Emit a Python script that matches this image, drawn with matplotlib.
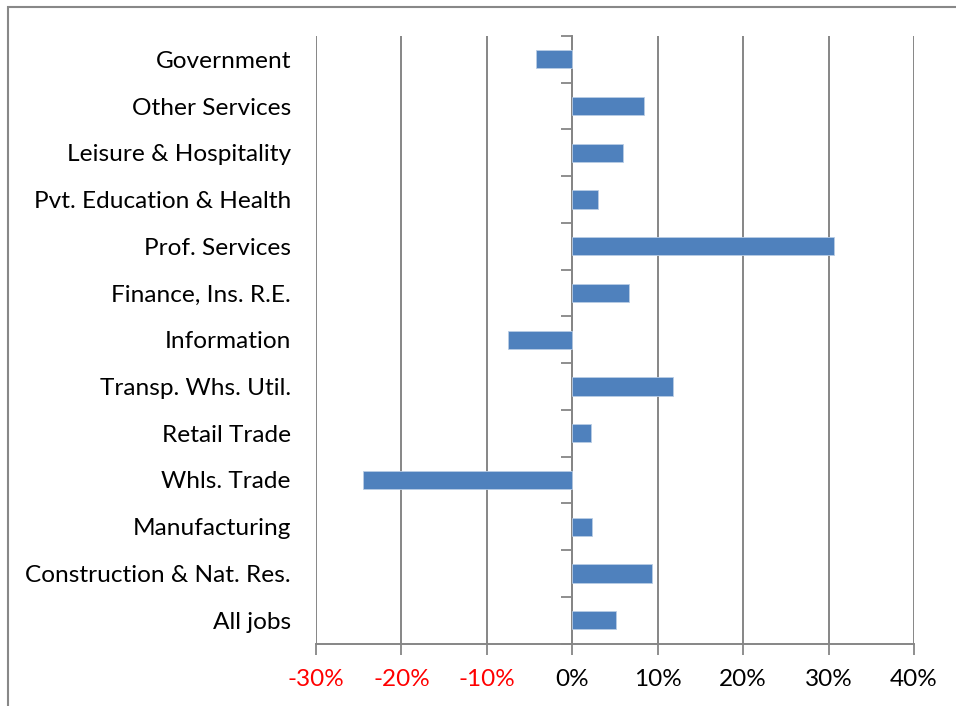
import numpy as np
import matplotlib.pyplot as plt
from matplotlib.patches import Rectangle

# job growth by sector, listed bottom to top
sectors = ['All jobs', 'Construction & Nat. Res.', 'Manufacturing', 'Whls. Trade',
           'Retail Trade', 'Transp. Whs. Util.', 'Information', 'Finance, Ins. R.E.',
           'Prof. Services', 'Pvt. Education & Health', 'Leisure & Hospitality',
           'Other Services', 'Government']
growth = [5.1, 9.3, 2.3, -24.5, 2.2, 11.8, -7.5, 6.6, 30.7, 3.0, 6.0, 8.4, -4.3]

x_ticks = [-30, -20, -10, 0, 10, 20, 30, 40]
x_labels = ['-30%', '-20%', '-10%', '0%', '10%', '20%', '30%', '40%']

plt.rcParams['font.family'] = ['Lato', 'DejaVu Sans']
grid_col = '#868686'

fig = plt.figure(figsize=(9.56, 7.06), dpi=100)
ax = fig.add_axes([0.3305, 0.0885, 0.6255, 0.8605])

y = np.arange(len(sectors))
ax.barh(y, growth, height=0.39, color='#4F81BD', edgecolor='#B9CDE5',
        linewidth=0.6, zorder=3)

ax.set_xlim(-30, 40)
ax.set_ylim(-0.5, len(sectors) - 0.5)

ax.set_xticks(x_ticks, x_labels)
for lbl, v in zip(ax.get_xticklabels(), x_ticks):
    lbl.set_color('red' if v < 0 else 'black')
ax.tick_params(axis='x', length=8, width=1.3, color=grid_col, pad=10,
               labelsize=17.5)
ax.grid(axis='x', color=grid_col, linewidth=1.4, zorder=0)

ax.set_yticks(y, sectors)
ax.tick_params(axis='y', length=0, pad=18, labelsize=17.6)

for side in ['left', 'right', 'top']:
    ax.spines[side].set_visible(False)
ax.spines['bottom'].set_color(grid_col)
ax.spines['bottom'].set_linewidth(1.4)

# vertical axis line at 0% with category separator ticks
zero_ax = ax.secondary_yaxis(3 / 7)
zero_ax.set_yticks(np.arange(len(sectors) + 1) - 0.5)
zero_ax.set_yticklabels([])
zero_ax.tick_params(length=8, width=1.3, color=grid_col, direction='out')
zero_ax.spines['left'].set_color(grid_col)
zero_ax.spines['left'].set_linewidth(1.4)
zero_ax.spines['left'].set_zorder(4)

# chart frame
fig.patches.append(Rectangle((8 / 956, -0.05), 1.1, 1 - 7 / 706 + 0.05,
                             transform=fig.transFigure, fill=False,
                             edgecolor='#888888', linewidth=1.5))

fig.savefig('out.png', dpi=100)
